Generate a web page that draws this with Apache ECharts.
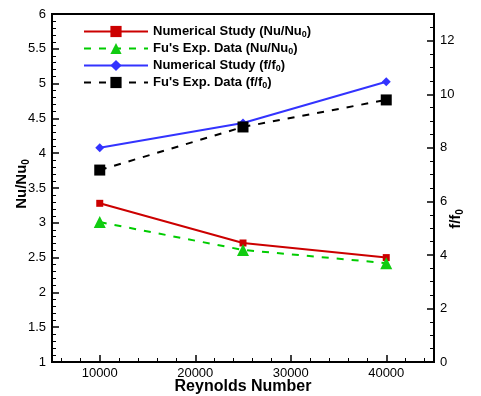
<!DOCTYPE html>
<html><head><meta charset="utf-8">
<script src="https://cdn.jsdelivr.net/npm/echarts@6/dist/echarts.min.js"></script>
<style>html,body{margin:0;padding:0;background:#fff}#c{width:481px;height:396px}</style>
</head><body><div id="c"></div>
<script>
const reynolds = [10000, 25000, 40000];
const numericalNu = [3.28, 2.71, 2.50];
const fuNu = [3.01, 2.61, 2.42];
const numericalF = [8.00, 8.93, 10.47];
const fuF = [7.17, 8.78, 9.79];
const xTickValues = [10000, 20000, 30000, 40000];
const xMinorValues = [6000, 8000, 12000, 14000, 16000, 18000, 22000, 24000, 26000, 28000, 32000, 34000, 36000, 38000, 42000, 44000];
const fTickValues = [0, 2, 4, 6, 8, 10, 12];
const fMinorValues = [0.5, 1, 1.5, 2.5, 3, 3.5, 4.5, 5, 5.5, 6.5, 7, 7.5, 8.5, 9, 9.5, 10.5, 11, 11.5, 12.5];
const seriesNames = ['Numerical Study (Nu/Nu0)', "Fu's Exp. Data (Nu/Nu0)", 'Numerical Study (f/f0)', "Fu's Exp. Data (f/f0)"];

const FONT = 'Liberation Sans, Arial, sans-serif';
const toPairs = (xs, ys) => xs.map((x, i) => [x, ys[i]]);
const subRich = (size, lh) => ({ s: { fontSize: size, fontWeight: 'bold', fontFamily: FONT, color: '#000', verticalAlign: 'bottom', lineHeight: lh } });

const chart = echarts.init(document.getElementById('c'), null, { renderer: 'canvas' });
const tickLabel = { color: '#000', fontSize: 13, fontFamily: FONT };
chart.setOption({
  animation: false,
  backgroundColor: '#fff',
  grid: { left: 52, top: 14, right: 47, bottom: 34, outerBoundsMode: 'none', containLabel: false,
    show: true, borderColor: '#000', borderWidth: 2, backgroundColor: 'transparent' },
  legend: {
    left: 83, top: 24, orient: 'vertical', padding: 0,
    itemWidth: 64, itemHeight: 14, itemGap: 2,
    data: seriesNames,
    formatter: (n) => n.replace('0)', '{s|0})'),
    textStyle: { color: '#000', fontSize: 13, fontWeight: 'bold', fontFamily: FONT, lineHeight: 15, rich: subRich(9, 8) }
  },
  xAxis: [
    {
      type: 'value', min: 5000, max: 45000, position: 'bottom',
      name: 'Reynolds Number', nameLocation: 'middle', nameGap: 17, nameMoveOverlap: false,
      nameTextStyle: { color: '#000', fontSize: 16, fontWeight: 'bold', fontFamily: FONT, verticalAlign: 'top' },
      axisLine: { show: true, lineStyle: { color: '#000', width: 2 } },
      axisTick: { show: true, inside: true, length: 7, lineStyle: { color: '#000', width: 1.5 }, customValues: xTickValues },
      axisLabel: { ...tickLabel, margin: 5, customValues: xTickValues, formatter: (v) => String(v) },
      splitLine: { show: false }
    },
    {
      type: 'value', min: 5000, max: 45000, position: 'bottom',
      axisLine: { show: false },
      axisTick: { show: true, inside: true, length: 4, lineStyle: { color: '#000', width: 1 }, customValues: xMinorValues },
      axisLabel: { show: false },
      splitLine: { show: false }
    }
  ],
  yAxis: [
    {
      type: 'value', min: 1, max: 6, interval: 0.5, position: 'left',
      name: '{b|Nu/Nu}{s|0}', nameLocation: 'middle', nameGap: 21, nameRotate: 90, nameMoveOverlap: false,
      nameTextStyle: { color: '#000', fontSize: 15, fontWeight: 'bold', fontFamily: FONT, lineHeight: 18, padding: [0, 0, 0, 8],
        rich: { b: { fontSize: 15, fontWeight: 'bold', fontFamily: FONT, color: '#000', lineHeight: 18 }, ...subRich(10, 10) } },
      axisLine: { show: true, lineStyle: { color: '#000', width: 2 } },
      axisTick: { show: true, inside: true, length: 7, lineStyle: { color: '#000', width: 1.5 } },
      minorTick: { show: true, splitNumber: 5, length: 4, lineStyle: { color: '#000', width: 1 } },
      axisLabel: { ...tickLabel, margin: 6, formatter: (v) => String(+v.toFixed(1)) },
      splitLine: { show: false }, minorSplitLine: { show: false }
    },
    {
      type: 'value', min: 0, max: 13, position: 'right',
      name: '{b|f/f}{s|0}', nameLocation: 'middle', nameGap: 13, nameRotate: 90, nameMoveOverlap: false,
      nameTextStyle: { color: '#000', fontSize: 15, fontWeight: 'bold', fontFamily: FONT, lineHeight: 18, padding: [0, 62, 0, 0],
        rich: { b: { fontSize: 15, fontWeight: 'bold', fontFamily: FONT, color: '#000', lineHeight: 18 }, ...subRich(10, 10) } },
      axisLine: { show: true, lineStyle: { color: '#000', width: 2 } },
      axisTick: { show: true, inside: true, length: 7, lineStyle: { color: '#000', width: 1.5 }, customValues: fTickValues },
      axisLabel: { ...tickLabel, margin: 6, customValues: fTickValues },
      splitLine: { show: false }
    },
    {
      type: 'value', min: 0, max: 13, position: 'right',
      axisLine: { show: false },
      axisTick: { show: true, inside: true, length: 4, lineStyle: { color: '#000', width: 1 }, customValues: fMinorValues },
      axisLabel: { show: false },
      splitLine: { show: false }
    }
  ],
  series: [
    { name: seriesNames[0], type: 'line', xAxisIndex: 0, yAxisIndex: 0, data: toPairs(reynolds, numericalNu),
      symbol: 'rect', symbolSize: 7, lineStyle: { color: '#cc0000', width: 2 }, itemStyle: { color: '#cc0000' } },
    { name: seriesNames[1], type: 'line', xAxisIndex: 0, yAxisIndex: 0, data: toPairs(reynolds, fuNu),
      symbol: 'triangle', symbolSize: 12, lineStyle: { color: '#00cc00', width: 2, type: [7, 8] }, itemStyle: { color: '#11cc11' } },
    { name: seriesNames[2], type: 'line', xAxisIndex: 0, yAxisIndex: 1, data: toPairs(reynolds, numericalF),
      symbol: 'diamond', symbolSize: 9, lineStyle: { color: '#3333ff', width: 2 }, itemStyle: { color: '#3333ff' } },
    { name: seriesNames[3], type: 'line', xAxisIndex: 0, yAxisIndex: 1, data: toPairs(reynolds, fuF),
      symbol: 'rect', symbolSize: 11, lineStyle: { color: '#000', width: 2, type: [7, 8] }, itemStyle: { color: '#000' } }
  ]
});
</script></body></html>
